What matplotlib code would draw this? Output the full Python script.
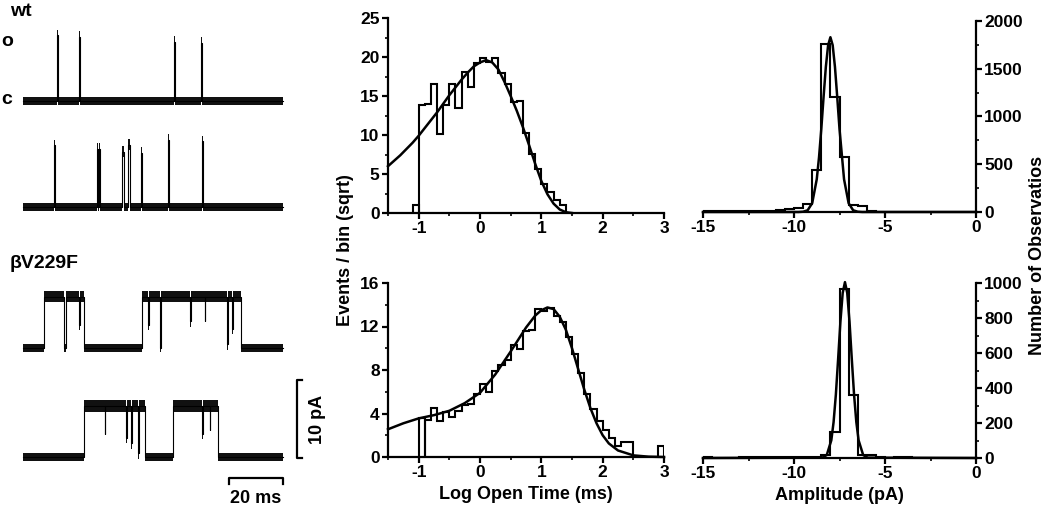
"""Single-channel traces with open-time and amplitude histograms (wt vs bV229F)."""

import numpy as np
import matplotlib
matplotlib.use("Agg")
import matplotlib.pyplot as plt
from matplotlib.ticker import MultipleLocator

plt.rcParams["font.family"] = ["Liberation Sans", "DejaVu Sans"]
plt.rcParams["font.weight"] = "bold"
plt.rcParams["axes.unicode_minus"] = False

# ---- single-channel traces: step edges (ms) and current levels (pA, openings up)
wt1_edges = [0.5, 13.0, 13.5, 21.1, 21.6, 56.3, 56.8, 66.3, 66.8, 96.5]
wt1_levels = [0, 8.4, 0, 8.2, 0, 7.6, 0, 7.4, 0]
wt2_edges = [0.5, 11.8, 12.3, 27.6, 28.0, 28.5, 28.9, 37.2, 37.6, 39.2, 39.9,
             43.9, 44.3, 54.1, 54.6, 66.6, 67.1, 96.5]
wt2_levels = [0, 7.9, 0, 7.5, 0, 7.5, 0, 7.1, 0, 8.0, 0, 6.9, 0, 8.6, 0, 8.4, 0]
mut1_edges = [0.5, 8.3, 15.5, 16.2, 21.0, 21.3, 23.0, 44.4, 46.8, 47.1, 51.0,
              51.3, 62.4, 62.7, 67.6, 67.9, 76.1, 76.4, 77.7, 78.0, 81.1, 96.5]
mut1_levels = [0, 6.6, 0, 6.6, 3.0, 6.6, 0, 6.6, 3.0, 6.6, 0, 6.6, 3.5, 6.6,
               3.5, 6.6, 0.5, 6.6, 2.5, 6.6, 0]
mut2_edges = [0.5, 23.1, 30.6, 30.9, 38.7, 39.0, 40.3, 40.6, 43.0, 43.3, 45.6,
              56.0, 66.8, 67.1, 69.5, 69.8, 72.7, 96.5]
mut2_levels = [0, 6.5, 3.0, 6.5, 2.5, 6.5, 1.8, 6.5, 0.5, 6.5, 0, 6.5, 3.0,
               6.5, 3.5, 6.5, 0]
scale_ms = 20
scale_pa = 10

# ---- open-time histograms (sqrt of events per bin), 0.1 log-unit bins
wt_time_start = -1.1
wt_time_counts = [1.0, 13.8, 14.0, 16.5, 10.1, 13.8, 16.5, 13.4, 18.1, 16.2,
                  19.2, 19.9, 19.3, 19.9, 18.0, 16.6, 14.2, 14.3, 10.2, 7.6,
                  5.6, 3.74, 2.65, 1.73, 1.0]
wt_fit_x = [-1.5, -1.4, -1.3, -1.2, -1.1, -1.0, -0.9, -0.8, -0.7, -0.6, -0.5,
            -0.4, -0.3, -0.2, -0.1, 0.0, 0.1, 0.2, 0.3, 0.4, 0.5, 0.6, 0.7,
            0.8, 0.9, 1.0, 1.1, 1.2, 1.3, 1.4, 1.5]
wt_fit_y = [6.0, 6.7, 7.4, 8.2, 9.0, 9.9, 10.9, 11.9, 12.9, 14.0, 15.1, 16.1,
            17.1, 18.0, 18.8, 19.3, 19.6, 19.3, 18.4, 16.8, 15.0, 13.1, 11.0,
            8.7, 6.3, 4.1, 2.4, 1.2, 0.45, 0.1, 0.0]

mut_time_start = -1.0
mut_time_counts = [3.56, 3.4, 4.5, 3.3, 4.1, 3.7, 4.2, 4.8, 4.9, 5.8,
                   6.7, 6.0, 7.9, 8.5, 8.9, 10.3, 9.9, 11.6, 11.7, 13.6,
                   13.4, 13.7, 13.0, 12.4, 11.0, 9.5, 7.7, 5.8, 4.4, 3.3,
                   2.45, 1.73, 1.0, 1.41, 1.41, 0, 0, 0, 0, 1.0]
mut_fit_x = [-1.5, -1.25, -1.0, -0.75, -0.5, -0.25, 0.0, 0.25, 0.5, 0.75, 0.9,
             1.0, 1.1, 1.2, 1.3, 1.4, 1.5, 1.6, 1.7, 1.8, 1.9, 2.0, 2.1, 2.25,
             2.5, 2.75, 3.0]
mut_fit_y = [2.55, 3.1, 3.55, 3.85, 4.25, 4.95, 5.9, 7.6, 9.7, 11.9, 13.0,
             13.5, 13.75, 13.6, 12.9, 11.7, 10.0, 8.1, 6.2, 4.5, 3.1, 2.0,
             1.25, 0.6, 0.15, 0.03, 0.0]
time_bin = 0.1

# ---- amplitude histograms (number of observations), 0.5 pA bins from -15 to 0
amp_start = -15.0
amp_bin = 0.5
wt_amp_counts = [10, 15, 10, 8, 8, 10, 12, 15, 20, 35, 45, 87, 442, 1754, 1207,
                 574, 76, 58, 8, 5, 5, 5, 4, 3, 2, 0, 0, 0, 0, 0]
wt_amp_fit_x = [-15, -9.75, -9.5, -9.25, -9.0, -8.75, -8.625, -8.5, -8.375,
                -8.25, -8.125, -8.0, -7.875, -7.75, -7.625, -7.5, -7.25, -7.0,
                -6.75, -6.5, -6.25, 0]
wt_amp_fit_y = [0, 0, 3, 18, 93, 343, 573, 870, 1205, 1520, 1747, 1830, 1747,
                1520, 1205, 870, 343, 93, 18, 3, 0, 0]
mut_amp_counts = [3, 2, 2, 2, 3, 3, 3, 3, 4, 6, 5, 4, 5, 15, 146, 966, 358, 20,
                  15, 3, 2, 6, 6, 2, 1, 0, 0, 0, 0, 0]
mut_amp_fit_x = [-15, -8.45, -8.2, -7.95, -7.825, -7.7, -7.575, -7.45, -7.325,
                 -7.2, -7.075, -6.95, -6.825, -6.7, -6.575, -6.45, -6.2, -5.95, 0]
mut_amp_fit_y = [0, 2, 17, 101, 205, 362, 566, 779, 943, 1005, 943, 779, 566,
                 362, 205, 101, 17, 2, 0]

# ---- layout (pixels of the 1050 x 509 canvas)
W, H = 1050, 509
MS_PX = 2.7   # px per ms in the traces
PA_PX = 7.8   # px per pA in the traces
LW = 1.6

fig = plt.figure(figsize=(W / 100, H / 100), dpi=100)


def px_axes(x0, y0, x1, y1):
    return fig.add_axes([x0 / W, 1 - y1 / H, (x1 - x0) / W, (y1 - y0) / H])


def fig_text(x, y, s, **kw):
    fig.text(x / W, 1 - y / H, s, fontweight="bold", **kw)


# traces
ax_tr = px_axes(0, 0, 336, 509)
ax_tr.set_xlim(-22 / MS_PX, (336 - 22) / MS_PX)
ax_tr.set_ylim(0, H / PA_PX)
ax_tr.axis("off")

traces = [(wt1_edges, wt1_levels, 101), (wt2_edges, wt2_levels, 207),
          (mut1_edges, mut1_levels, 348), (mut2_edges, mut2_levels, 457)]
for edges, levels, base_px in traces:
    off = (H - base_px) / PA_PX
    lv = np.array(levels + [levels[-1]], dtype=float)
    noise = np.where(lv > 0, 0.75, 0.5)
    ax_tr.fill_between(edges, off + lv - noise, off + lv + noise, step="post",
                       color="#111111", lw=0)
    ax_tr.plot(edges, off + lv, drawstyle="steps-post", color="black", lw=0.8)

# scale bars
sx0 = (229 - 22) / MS_PX
sy = (H - 478) / PA_PX
tick = 0.8
ax_tr.plot([sx0, sx0, sx0 + scale_ms, sx0 + scale_ms],
           [sy - tick, sy, sy, sy - tick], color="black", lw=LW)
vx = (297 - 22) / MS_PX
vy0 = (H - 458) / PA_PX
cap = 2.0
ax_tr.plot([vx + cap, vx, vx, vx + cap],
           [vy0, vy0, vy0 + scale_pa, vy0 + scale_pa], color="black", lw=LW)
ax_tr.text(sx0 + scale_ms / 2, sy - 1.6, f"{scale_ms} ms", ha="center", va="top",
           fontsize=13, fontweight="bold")
ax_tr.text(vx + 2.6 * cap + 2.5, vy0 + scale_pa / 2, f"{scale_pa} pA", ha="center",
           va="center", rotation=90, fontsize=13, fontweight="bold")

fig_text(10, 11, "wt", ha="left", va="center", fontsize=14)
fig_text(7, 41, "o", ha="center", va="center", fontsize=14)
fig_text(7, 100, "c", ha="center", va="center", fontsize=14)
fig_text(10, 263, "βV229F", ha="left", va="center", fontsize=14)


def style(ax, right=False):
    for s in ax.spines.values():
        s.set_linewidth(LW)
    ax.spines["top"].set_visible(False)
    if right:
        ax.spines["left"].set_visible(False)
        ax.yaxis.tick_right()
    else:
        ax.spines["right"].set_visible(False)
    ax.tick_params(which="major", direction="out", length=4, width=LW,
                   labelsize=12.5, pad=2)
    ax.tick_params(which="minor", direction="out", length=2.5, width=1.2)
    for lab in ax.get_xticklabels() + ax.get_yticklabels():
        lab.set_fontweight("bold")


def time_hist(ax, start, counts, fit_x, fit_y, ymax, ymaj):
    edges = start + time_bin * np.arange(len(counts) + 1)
    ax.stairs(counts[:1], edges[:2], baseline=0, color="black", lw=1.5)
    ax.stairs(counts[1:], edges[1:], baseline=0, color="black", lw=1.5)
    ax.plot(fit_x, fit_y, color="black", lw=1.8, clip_on=False)
    ax.set_xlim(-1.5, 3)
    ax.set_ylim(0, ymax)
    ax.xaxis.set_major_locator(MultipleLocator(1))
    ax.xaxis.set_minor_locator(MultipleLocator(0.5))
    ax.yaxis.set_major_locator(MultipleLocator(ymaj))
    ax.yaxis.set_minor_locator(MultipleLocator(ymaj / 2))
    style(ax)


def amp_hist(ax, counts, fit_x, fit_y, ymax, ymaj):
    edges = amp_start + amp_bin * np.arange(len(counts) + 1)
    ax.stairs(counts, edges, baseline=0, color="black", lw=1.5)
    ax.plot(fit_x, fit_y, color="black", lw=1.8, clip_on=False)
    ax.set_xlim(-15, 0)
    ax.set_ylim(0, ymax)
    ax.xaxis.set_major_locator(MultipleLocator(5))
    ax.xaxis.set_minor_locator(MultipleLocator(2.5))
    ax.yaxis.set_major_locator(MultipleLocator(ymaj))
    ax.yaxis.set_minor_locator(MultipleLocator(ymaj / 2))
    style(ax, right=True)


ax_t1 = px_axes(388, 18, 664, 213)
time_hist(ax_t1, wt_time_start, wt_time_counts, wt_fit_x, wt_fit_y, 25, 5)
ax_t2 = px_axes(388, 283, 664, 457)
time_hist(ax_t2, mut_time_start, mut_time_counts, mut_fit_x, mut_fit_y, 16, 4)
ax_t2.set_xlabel("Log Open Time (ms)", fontsize=13, fontweight="bold", labelpad=4)

ax_a1 = px_axes(703, 21, 976, 212)
amp_hist(ax_a1, wt_amp_counts, wt_amp_fit_x, wt_amp_fit_y, 2000, 500)
ax_a2 = px_axes(703, 283, 976, 458)
amp_hist(ax_a2, mut_amp_counts, mut_amp_fit_x, mut_amp_fit_y, 1000, 200)
ax_a2.set_xlabel("Amplitude (pA)", fontsize=13, fontweight="bold", labelpad=4)

fig_text(345, 250, "Events / bin (sqrt)", ha="center", va="center",
         rotation=90, fontsize=13)
fig_text(1037, 255, "Number of Observatios", ha="center", va="center",
         rotation=90, fontsize=13)

fig.savefig("out.png", dpi=100)
